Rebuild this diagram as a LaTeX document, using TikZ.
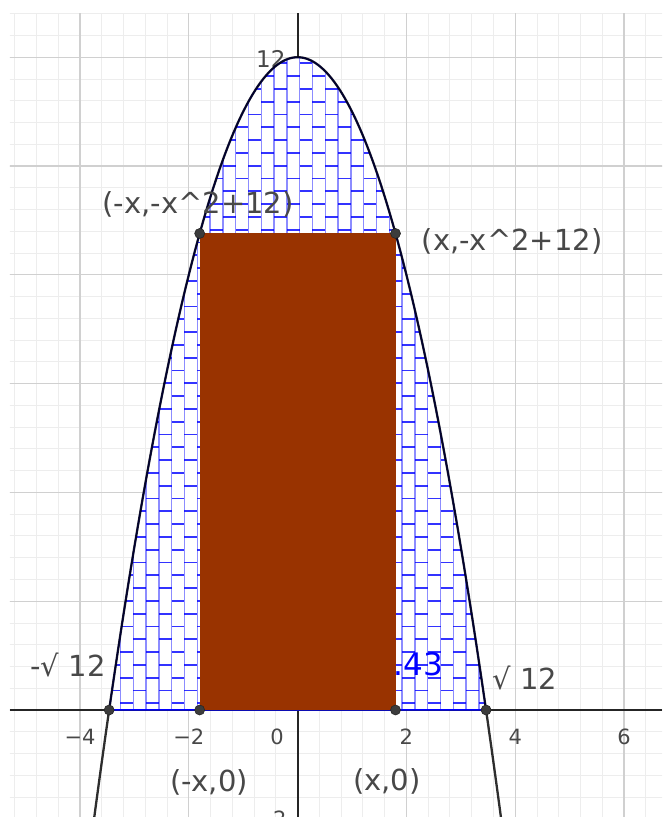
\documentclass[tikz,border=0pt]{standalone}
\usepackage{fontspec}
\setmainfont{DejaVu Sans}
\definecolor{labgray}{RGB}{72,72,72}
\definecolor{dotgray}{RGB}{60,60,60}
\definecolor{brickfill}{RGB}{153,51,0}
\definecolor{hatchblue}{RGB}{0,0,255}
\definecolor{minorcol}{RGB}{237,237,237}
\definecolor{majorcol}{RGB}{208,208,208}
\definecolor{axiscol}{RGB}{37,37,37}
\begin{document}
\begin{tikzpicture}[x=54.4pt,y=54.4pt,
  minorgrid/.style={draw=minorcol, line width=0.9pt},
  majorgrid/.style={draw=majorcol, line width=1.3pt},
  axisline/.style={draw=axiscol, line width=2pt},
  ticklab/.style={text=labgray, font=\fontsize{21}{21}\selectfont, inner sep=0pt},
  ptlab/.style={text=labgray, font=\fontsize{29}{29}\selectfont, inner sep=0pt},
  ptdot/.style={circle, fill=dotgray, draw=black!85, line width=0.6pt, minimum size=10pt, inner sep=0pt},
  vhatch/.style={draw=hatchblue, draw opacity=0.45, line width=1.5pt},
  hhatch/.style={draw=hatchblue, draw opacity=0.8, line width=1.8pt},
  curveline/.style={draw=black, draw opacity=0.82, line width=2.3pt},
]
\useasboundingbox (-5.4706,-1.9669) rectangle (6.6985,13.0515);
% grid
\begin{scope}
\clip (-5.2868,-1.9669) rectangle (6.6985,12.81);
\draw[minorgrid, step=0.4] (-5.6,-2.4) grid (7.2,13.2);
\draw[majorgrid, step=2] (-6,-2) grid (8,14);
\end{scope}
% axes
\coordinate (xl) at (-5.2868,0);
\coordinate (xr) at (6.6985,0);
\coordinate (yb) at (0,-1.9669);
\coordinate (yt) at (0,12.81);
\draw[axisline] (xl) -- (xr);
\draw[axisline] (yb) -- (yt);
% tick labels
\node[ticklab] (tm4) at (-4,-0.5) {−4};
\node[ticklab] (tm2) at (-2,-0.5) {−2};
\node[ticklab] (t0) at (-0.377,-0.5) {0};
\node[ticklab] (t2) at (2,-0.5) {2};
\node[ticklab] (t4) at (4,-0.5) {4};
\node[ticklab] (t6) at (6,-0.5) {6};
\node[ticklab, anchor=east, font=\fontsize{23}{23}\selectfont] (ty12) at (-0.22,11.96) {12};
\node[ticklab, anchor=east] (tym2) at (-0.2,-2) {−2};
% hatched region
\begin{scope}
\clip plot[domain=-3.4641:3.4641, samples=80] (\x,{12-\x*\x}) -- cycle;
\fill[white] (-4,-0.1) rectangle (4,12.5);
\foreach \k in {-7,...,23} {
  \draw[vhatch] ({-1.844+\k*0.2353},0) -- ++(0,12.2);
}
\foreach \k in {-7,...,23} {
  \pgfmathtruncatemacro{\p}{mod(\k+14,2)}
  \foreach \j in {0,2,...,50} {
    \draw[hhatch] ({-1.844+\k*0.2353},{0.123+(\j+\p)*0.2353}) -- ++(0.2353,0);
  }
}
\end{scope}
\draw[draw=hatchblue, line width=1.5pt] plot[domain=-3.4641:3.4641, samples=80] (\x,{12-\x*\x}) -- cycle;
% value label (partly under the rectangle)
\node[text=hatchblue, font=\fontsize{31}{31}\selectfont, inner sep=0pt, anchor=base west] (val) at (1.765,0.643) {.43};
% rectangle
\coordinate (RBL) at (-1.8,0);
\coordinate (RTR) at (1.8,8.76);
\fill[brickfill] (RBL) rectangle (RTR);
% function curve
\begin{scope}
\clip (-5.4706,-1.9669) rectangle (6.6985,13.0515);
\draw[curveline] plot[domain=-3.75:3.75, samples=150] (\x,{12-\x*\x});
\end{scope}
% points
\node[ptdot] (A) at (-1.8,8.76) {};
\node[ptdot] (B) at (1.8,8.76) {};
\node[ptdot] (C) at (-3.4641,0) {};
\node[ptdot] (D) at (3.4641,0) {};
\node[ptdot] (E) at (-1.8,0) {};
\node[ptdot] (F) at (1.8,0) {};
% labels
\node[ptlab] (lA) at (-1.831,9.301) {(-x,-x\textasciicircum 2+12)};
\node[ptlab] (lB) at (3.943,8.621) {(x,-x\textasciicircum 2+12)};
\node[ptlab] (lC) at (-4.221,0.827) {-√ 12};
\node[ptlab] (lD) at (4.181,0.588) {√ 12};
\node[ptlab] (lE) at (-1.629,-1.324) {(-x,0)};
\node[ptlab] (lF) at (1.643,-1.305) {(x,0)};
\end{tikzpicture}
\end{document}
